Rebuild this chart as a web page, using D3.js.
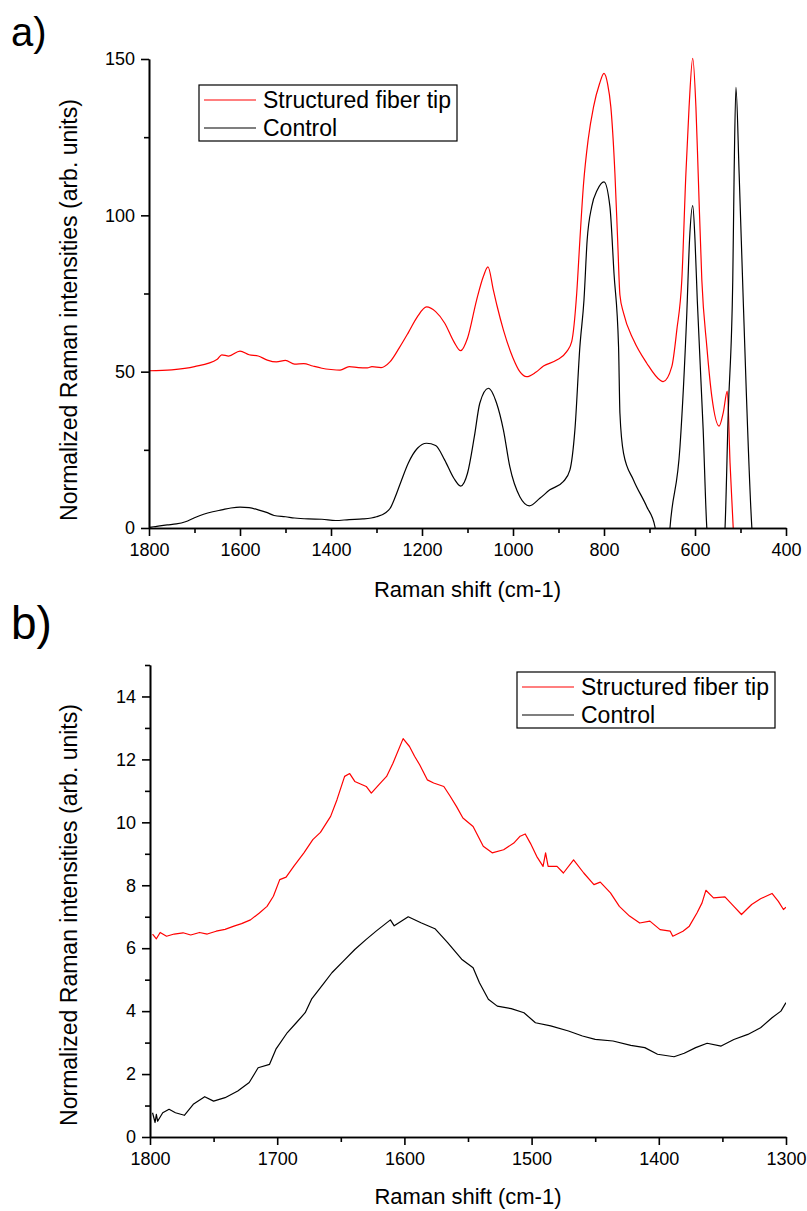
<!DOCTYPE html>
<html>
<head>
<meta charset="utf-8">
<script src="https://cdn.jsdelivr.net/npm/d3@7"></script>
<style>
  body { margin: 0; background: #fff; }
  svg { font-family: "Liberation Sans", Arial, sans-serif; }
</style>
</head>
<body>
<svg id="chart" width="807" height="1211"></svg>
<script>
// ---- panel a) full spectrum ----
const aRedShift = [1800, 1750, 1700, 1650, 1640, 1625, 1600, 1580, 1560, 1540, 1520, 1500, 1480, 1460, 1440, 1420, 1400, 1380, 1360, 1340, 1320, 1310, 1290, 1270, 1250, 1230, 1210, 1190, 1170, 1150, 1130, 1115, 1100, 1080, 1065, 1055, 1043, 1035, 1021, 1000, 985, 970, 950, 933, 904, 882, 871, 860, 853, 845, 835, 823, 810, 800, 792, 785, 776, 770, 765, 757, 735, 706, 677, 670, 651, 640, 629, 620, 613, 605, 598, 593, 585, 574, 563, 547, 538, 529, 523, 516, 510, 400];
const aRedValue = [50.3, 50.6, 51.6, 54.0, 55.4, 55.0, 56.6, 55.4, 55.0, 53.7, 53.1, 53.6, 52.4, 52.6, 51.8, 51.1, 50.7, 50.5, 51.6, 51.3, 51.2, 51.6, 51.3, 53.2, 57.6, 62.5, 67.6, 70.7, 69.2, 65.5, 59.6, 56.7, 60.7, 72.9, 80.5, 83.5, 76.0, 71.0, 63.3, 54.4, 50.0, 48.4, 49.8, 51.8, 53.7, 56.4, 59.6, 75.0, 92.1, 110.0, 124.0, 134.7, 142.0, 145.4, 142.0, 134.7, 113.4, 92.1, 74.5, 68.7, 60.1, 52.7, 47.3, 46.8, 51.6, 63.3, 79.3, 113.4, 134.7, 150.2, 134.7, 113.4, 79.3, 58.0, 42.0, 32.6, 36.8, 43.8, 20.9, 0, -20, -20];

const aBlackShift = [1800, 1790, 1760, 1740, 1720, 1700, 1680, 1660, 1640, 1620, 1600, 1580, 1560, 1540, 1525, 1500, 1480, 1450, 1420, 1390, 1360, 1330, 1300, 1280, 1270, 1260, 1245, 1230, 1210, 1190, 1170, 1150, 1130, 1115, 1100, 1085, 1073, 1054, 1036, 1021, 1007, 985, 964, 941, 919, 889, 875, 864, 853, 844, 837, 827, 815, 800, 787, 778, 768, 765, 757, 735, 706, 688, 680, 660, 655, 633, 618, 612, 605, 600, 595, 582, 574, 565, 540, 534, 527, 517, 514, 510, 503, 494, 475, 470, 400];
const aBlackValue = [0.2, 0.4, 1.0, 1.3, 2.0, 3.3, 4.4, 5.2, 5.8, 6.4, 6.7, 6.5, 5.8, 4.9, 4.0, 3.6, 3.2, 2.9, 2.8, 2.4, 2.7, 2.9, 3.6, 4.9, 6.3, 9.5, 15.3, 20.8, 25.5, 27.1, 26.4, 21.7, 15.9, 13.4, 17.5, 29.2, 39.9, 44.7, 39.9, 31.3, 19.6, 10.0, 7.1, 9.5, 12.2, 14.9, 18.5, 31.3, 58.0, 72.9, 92.1, 102.8, 108.0, 110.7, 102.8, 81.4, 58.0, 36.7, 23.9, 15.3, 6.8, 0.4, -10, -10, 0, 26.0, 68.7, 92.1, 103.1, 92.1, 72.9, 31.3, 0, -10, -10, 0, 36.7, 79.3, 113.4, 140.9, 113.4, 72.9, 0, -10, -10];

const aXTicks = [1800, 1600, 1400, 1200, 1000, 800, 600, 400];
const aXMinor = [1700, 1500, 1300, 1100, 900, 700, 500];
const aYTicks = [0, 50, 100, 150];
const aYMinor = [25, 75, 125];

// ---- panel b) 1800-1300 detail ----
const bRedShift = [1798, 1795, 1792, 1787, 1781, 1774, 1768, 1761, 1755, 1748, 1741, 1734, 1728, 1721, 1714, 1708, 1703, 1698, 1693, 1687, 1679, 1672, 1666, 1658, 1653, 1647, 1643, 1639, 1630, 1626, 1620, 1614, 1609, 1601, 1596, 1592, 1588, 1582, 1577, 1569, 1564, 1559, 1554, 1546, 1538, 1531, 1522, 1514, 1509, 1505, 1501, 1496, 1491, 1489, 1487, 1480, 1475, 1467, 1459, 1451, 1446, 1438, 1431, 1423, 1415, 1407, 1399, 1391, 1389, 1381, 1376, 1370, 1366, 1363, 1357, 1348, 1341, 1335, 1327, 1320, 1311, 1306, 1302, 1300];
const bRedValue = [6.45, 6.3, 6.5, 6.38, 6.45, 6.49, 6.42, 6.5, 6.45, 6.54, 6.6, 6.7, 6.78, 6.9, 7.12, 7.33, 7.65, 8.18, 8.26, 8.6, 9.03, 9.45, 9.68, 10.19, 10.72, 11.46, 11.55, 11.3, 11.14, 10.93, 11.2, 11.46, 11.88, 12.66, 12.41, 12.1, 11.83, 11.35, 11.25, 11.14, 10.83, 10.5, 10.14, 9.87, 9.24, 9.03, 9.13, 9.34, 9.56, 9.63, 9.34, 8.92, 8.6, 9.03, 8.6, 8.6, 8.39, 8.81, 8.39, 8.02, 8.1, 7.76, 7.33, 7.02, 6.8, 6.86, 6.59, 6.54, 6.38, 6.54, 6.7, 7.12, 7.44, 7.84, 7.6, 7.63, 7.33, 7.07, 7.39, 7.57, 7.74, 7.49, 7.23, 7.3];

const bBlackShift = [1798, 1796, 1795, 1794, 1790, 1785, 1780, 1773, 1766, 1757, 1750, 1741, 1731, 1722, 1715, 1706, 1701, 1692, 1685, 1678, 1673, 1664, 1657, 1648, 1639, 1630, 1622, 1611, 1608, 1597, 1587, 1576, 1566, 1555, 1546, 1541, 1534, 1527, 1516, 1506, 1497, 1485, 1471, 1460, 1450, 1436, 1422, 1411, 1401, 1388, 1380, 1371, 1362, 1351, 1341, 1330, 1320, 1311, 1304, 1300];
const bBlackValue = [0.77, 0.46, 0.72, 0.5, 0.77, 0.88, 0.77, 0.69, 1.04, 1.28, 1.14, 1.25, 1.46, 1.73, 2.2, 2.31, 2.79, 3.32, 3.63, 3.95, 4.38, 4.85, 5.22, 5.59, 5.96, 6.28, 6.55, 6.9, 6.71, 7.0, 6.81, 6.62, 6.18, 5.65, 5.38, 4.9, 4.38, 4.16, 4.08, 3.95, 3.63, 3.53, 3.37, 3.21, 3.1, 3.05, 2.91, 2.84, 2.63, 2.55, 2.66, 2.84, 2.98, 2.89, 3.1, 3.26, 3.47, 3.79, 4.0, 4.27];

const bXTicks = [1800, 1700, 1600, 1500, 1400, 1300];
const bXMinor = [1750, 1650, 1550, 1450, 1350];
const bYTicks = [0, 2, 4, 6, 8, 10, 12, 14];
const bYMinor = [1, 3, 5, 7, 9, 11, 13, 15];

const seriesNames = ["Structured fiber tip", "Control"];
const seriesColors = ["#ff0000", "#000000"];

const svg = d3.select("#chart");

function zip(xs, ys) {
    return xs.map((x, i) => ({x: x, y: ys[i]}));
}

function drawPanel(p) {
    const g = svg.append("g");
    const x = d3.scaleLinear().domain(p.xDomain).range([p.left, p.right]);
    const y = d3.scaleLinear().domain(p.yDomain).range([p.bottom, p.top]);

    // clip anything under zero, like the original plot does
    g.append("clipPath").attr("id", p.id + "clip")
        .append("rect")
        .attr("x", p.left).attr("y", p.top - 12)
        .attr("width", p.right - p.left).attr("height", p.bottom - p.top + 12);

    const line = d3.line()
        .x(d => x(d.x))
        .y(d => y(d.y))
        .curve(p.curve);

    p.series.forEach((s, i) => {
        g.append("path")
            .datum(s)
            .attr("clip-path", `url(#${p.id}clip)`)
            .attr("fill", "none")
            .attr("stroke", seriesColors[i])
            .attr("stroke-width", 1.2)
            .attr("stroke-linejoin", "round")
            .attr("d", line);
    });

    // axes: major + minor ticks, all outward
    const fmt = d3.format("d");
    g.append("g").attr("transform", `translate(0,${p.bottom})`)
        .call(d3.axisBottom(x).tickValues(p.xTicks).tickFormat(fmt).tickSize(8).tickPadding(7).tickSizeOuter(0));
    g.append("g").attr("transform", `translate(0,${p.bottom})`)
        .call(d3.axisBottom(x).tickValues(p.xMinor).tickSize(5).tickFormat("").tickSizeOuter(0));
    g.append("g").attr("transform", `translate(${p.left},0)`)
        .call(d3.axisLeft(y).tickValues(p.yTicks).tickFormat(fmt).tickSize(8).tickPadding(6).tickSizeOuter(0));
    g.append("g").attr("transform", `translate(${p.left},0)`)
        .call(d3.axisLeft(y).tickValues(p.yMinor).tickSize(5).tickFormat("").tickSizeOuter(0));

    g.selectAll(".domain").attr("stroke", "#000").attr("stroke-width", 1.6);
    g.selectAll(".tick line").attr("stroke", "#000").attr("stroke-width", 1.6);
    g.selectAll(".tick text").attr("font-size", 18).attr("fill", "#000")
        .attr("font-family", "Liberation Sans, Arial, sans-serif");

    // axis titles
    g.append("text")
        .attr("x", (p.left + p.right) / 2)
        .attr("y", p.xTitleY)
        .attr("text-anchor", "middle")
        .attr("font-size", 22)
        .text("Raman shift (cm-1)");
    g.append("text")
        .attr("transform", `translate(77,${p.yTitleY}) rotate(-90)`)
        .attr("text-anchor", "middle")
        .attr("font-size", 23)
        .text("Normalized Raman intensities (arb. units)");

    // panel letter
    g.append("text")
        .attr("x", 11).attr("y", p.letterY)
        .attr("font-size", p.letterSize)
        .text(p.letter);

    // legend
    const lg = g.append("g").attr("transform", `translate(${p.legX},${p.legY})`);
    lg.append("rect")
        .attr("width", 258).attr("height", 56)
        .attr("fill", "#fff").attr("stroke", "#000").attr("stroke-width", 1.2);
    seriesNames.forEach((name, i) => {
        const ry = 15 + i * 28;
        lg.append("line")
            .attr("x1", 5).attr("x2", 57).attr("y1", ry).attr("y2", ry)
            .attr("stroke", seriesColors[i]).attr("stroke-width", 1.2);
        lg.append("text")
            .attr("x", 64).attr("y", ry + 8)
            .attr("font-size", 23)
            .text(name);
    });
}

drawPanel({
    id: "a",
    xDomain: [1800, 400], yDomain: [0, 150],
    left: 149, right: 786, top: 59, bottom: 528,
    series: [zip(aRedShift, aRedValue), zip(aBlackShift, aBlackValue)],
    curve: d3.curveMonotoneX,
    xTicks: aXTicks, xMinor: aXMinor, yTicks: aYTicks, yMinor: aYMinor,
    xTitleY: 597, yTitleY: 310,
    letter: "a)", letterY: 46, letterSize: 40,
    legX: 199, legY: 85
});

drawPanel({
    id: "b",
    xDomain: [1800, 1300], yDomain: [0, 15],
    left: 150, right: 786, top: 665, bottom: 1137,
    series: [zip(bRedShift, bRedValue), zip(bBlackShift, bBlackValue)],
    curve: d3.curveLinear,
    xTicks: bXTicks, xMinor: bXMinor, yTicks: bYTicks, yMinor: bYMinor,
    xTitleY: 1204, yTitleY: 915,
    letter: "b)", letterY: 639, letterSize: 46,
    legX: 517, legY: 672
});
</script>
</body>
</html>
